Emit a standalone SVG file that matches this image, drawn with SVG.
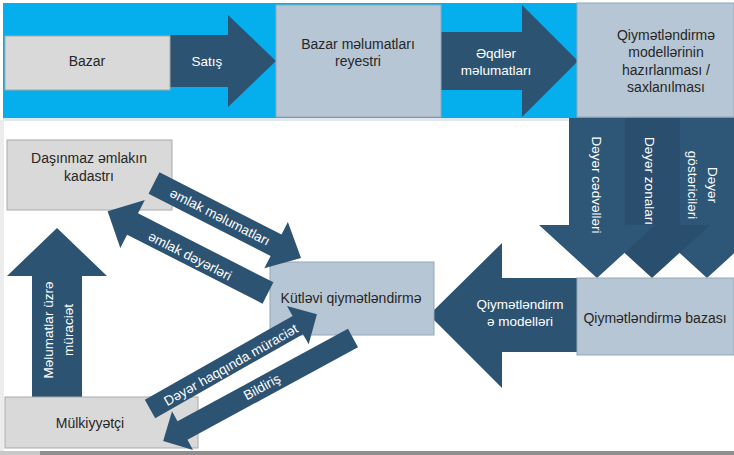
<svg xmlns="http://www.w3.org/2000/svg" width="734" height="455" viewBox="0 0 734 455">
<style>
.gbox{fill:#d9d9d9;stroke:#a9a9a9;stroke-width:1}
.bbox{fill:#b7c6d4;stroke:#93a8ba;stroke-width:1}
.arr{fill:#2d5373}
.t{font-family:"Liberation Sans",Arial,sans-serif;font-size:14px;fill:#262626;text-anchor:middle}
.w{font-family:"Liberation Sans",Arial,sans-serif;font-size:13.5px;fill:#ffffff;text-anchor:middle}
</style>
<rect x="0" y="0" width="734" height="455" fill="#ffffff"/>
<rect x="0" y="120" width="4" height="331" fill="#ececec"/>
<rect x="3" y="3" width="731" height="115" fill="#05aeec"/>
<rect x="3" y="118" width="731" height="3" fill="#dfe9ef"/>
<rect x="0" y="451" width="734" height="4" fill="#8f8f8f"/>
<rect x="0" y="451" width="40" height="4" fill="#c8c8c8"/>

<g id="connectors">
  <g id="arrow-satis">
    <polygon class="arr" points="170,35 228,35 228,15 276,61 228,107 228,87 170,87"/>
    <text class="w" x="207" y="66">Satış</text>
  </g>
  <g id="arrow-eqdler">
    <polygon class="arr" points="441,32 522,32 522,5 578,61 522,117 522,90 441,90"/>
    <text class="w" x="496" y="58">Əqdlər</text>
    <text class="w" x="496" y="75">məlumatları</text>
  </g>
  <g id="arrow-dz3">
    <polygon fill="#2e5677" points="680,118 736,118 736,225 765,225 707,278 649,225 680,225"/>
    <g transform="translate(702,185) rotate(90)">
      <text class="w" x="0" y="-5.5">Dəyər</text>
      <text class="w" x="0" y="14.5">göstəriciləri</text>
    </g>
  </g>
  <g id="arrow-dz2">
    <polygon fill="#2a4e6e" points="625,118 680,118 680,225 710,225 652,278 594,225 625,225"/>
    <text class="w" transform="translate(649,181) rotate(90)" x="0" y="4.5">Dəyər zonaları</text>
  </g>
  <g id="arrow-dz1">
    <polygon fill="#2e5677" points="569,118 625,118 625,225 655,225 597,278 539,225 569,225"/>
    <text class="w" transform="translate(596,185) rotate(90)" x="0" y="4.5">Dəyər cədvəlləri</text>
  </g>
  <g id="arrow-modeller">
    <polygon class="arr" points="429,315 502,243 502,278 577,278 577,352 502,352 502,388"/>
    <text class="w" x="520" y="309">Qiymətləndirm</text>
    <text class="w" x="520" y="326">ə modelləri</text>
  </g>
  <g id="arrow-up">
    <polygon class="arr" points="57,228 107,276 82,276 82,400 32,400 32,276 7,276"/>
    <g transform="translate(58,330) rotate(-90)">
      <text class="w" x="0" y="-5.5">Məlumatlar üzrə</text>
      <text class="w" x="0" y="14.5">müraciət</text>
    </g>
  </g>
</g>

<g id="n-bazar">
  <rect class="gbox" x="5" y="36" width="165" height="54"/>
  <text class="t" x="87" y="66">Bazar</text>
</g>
<g id="n-reyestr">
  <rect class="bbox" x="276" y="5" width="165" height="112"/>
  <text class="t" x="358" y="49">Bazar məlumatları</text>
  <text class="t" x="358" y="66">reyestri</text>
</g>
<g id="n-hazirlanma">
  <rect class="bbox" x="577" y="3" width="157" height="114"/>
  <text class="t" x="666" y="40">Qiymətləndirmə</text>
  <text class="t" x="666" y="57">modellərinin</text>
  <text class="t" x="666" y="75">hazırlanması /</text>
  <text class="t" x="666" y="92">saxlanılması</text>
</g>
<g id="n-kadastr">
  <rect class="gbox" x="7" y="140" width="165" height="70"/>
  <text class="t" x="89" y="163">Daşınmaz əmlakın</text>
  <text class="t" x="89" y="181">kadastrı</text>
</g>
<g id="n-mulkiyyetci">
  <rect class="gbox" x="5" y="397" width="193" height="51"/>
  <text class="t" x="90" y="428">Mülkiyyətçi</text>
</g>
<g id="n-kutlevi">
  <rect class="bbox" x="270" y="262" width="164" height="73"/>
  <text class="t" x="351" y="303">Kütləvi qiymətləndirmə</text>
</g>
<g id="n-baza">
  <rect class="bbox" x="577" y="278" width="157" height="77"/>
  <text class="t" x="655" y="323">Qiymətləndirmə bazası</text>
</g>

<g id="connectors-diagonal">
  <g id="arrow-emlak-melumat">
    <polygon class="arr" transform="translate(154,183) rotate(27)" points="0,-12 137,-12 137,-26 165,0 137,26 137,12 0,12"/>
    <text class="w" transform="translate(220,217) rotate(27)" x="0" y="4.5">əmlak məlumatları</text>
  </g>
  <g id="arrow-emlak-deyer">
    <polygon class="arr" transform="translate(268,293) rotate(207)" points="0,-12 152,-12 152,-27 180,0 152,27 152,12 0,12"/>
    <text class="w" transform="translate(190,256) rotate(27)" x="0" y="4.5">əmlak dəyərləri</text>
  </g>
  <g id="arrow-deyer-muraciet">
    <polygon class="arr" transform="translate(150,409) rotate(-29.6)" points="0,-10.5 170,-10.5 170,-22 192,0 170,22 170,10.5 0,10.5"/>
    <text class="w" transform="translate(231,365) rotate(-29.6)" x="0" y="4.5">Dəyər haqqında müraciət</text>
  </g>
  <g id="arrow-bildiris">
    <polygon class="arr" transform="translate(353,338) rotate(151.5)" points="0,-10.5 194,-10.5 194,-22 216,0 194,22 194,10.5 0,10.5"/>
    <text class="w" transform="translate(262,387) rotate(-28.5)" x="0" y="4.5">Bildiriş</text>
  </g>
</g>
</svg>
